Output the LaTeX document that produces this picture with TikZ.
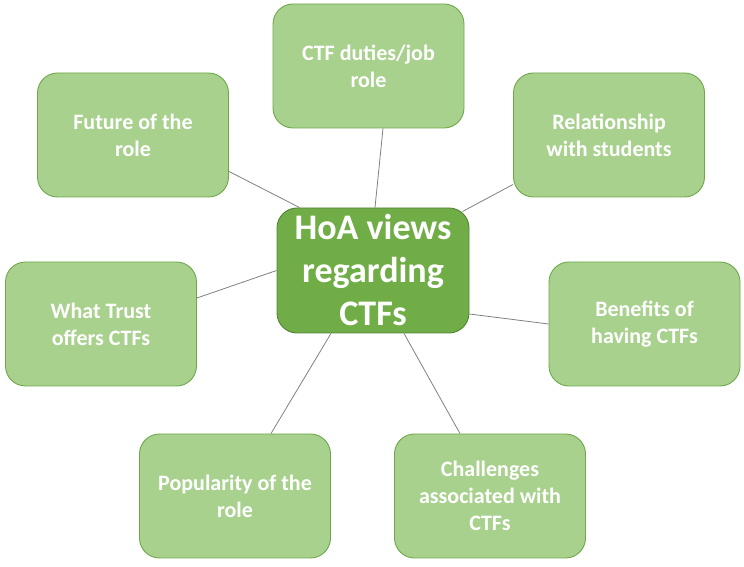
\documentclass[tikz,border=0pt]{standalone}
\usepackage{fontspec}
\setmainfont{Carlito}
\usetikzlibrary{calc}
\definecolor{outerfill}{HTML}{A9D18E}
\definecolor{outerdraw}{HTML}{6EA84A}
\definecolor{centerfill}{HTML}{70AD47}
\definecolor{centerdraw}{HTML}{548235}
\definecolor{linkgray}{HTML}{808080}
\tikzset{
  topicbox/.style={draw=outerdraw, fill=outerfill, line width=0.9pt, rounded corners=20pt,
    minimum width=191pt, minimum height=124pt, inner sep=0pt, align=center, text=white,
    font=\fontsize{22}{27}\selectfont\bfseries},
  hubbox/.style={draw=centerdraw, fill=centerfill, line width=0.9pt, rounded corners=20pt,
    minimum width=192pt, minimum height=125pt, inner sep=0pt, align=center, text=white,
    font=\fontsize{36}{43}\selectfont\bfseries},
  link/.style={draw=linkgray, line width=0.8pt}
}
\begin{document}
\begin{tikzpicture}[x=1pt,y=1pt]
\useasboundingbox (0,0) rectangle (744,567);
\node[hubbox] (hoa) at (373,296.5) {HoA views\\regarding\\CTFs};
\node[topicbox] (duties) at (368.5,501) {CTF duties/job\\role};
\node[topicbox] (future) at (133,432) {Future of the\\role};
\node[topicbox] (rel) at (609,432) {Relationship\\with students};
\node[topicbox] (trust) at (101,243) {What Trust\\offers CTFs};
\node[topicbox] (benefits) at (644.5,243) {Benefits of\\having CTFs};
\node[topicbox] (popular) at (235,71) {Popularity of the\\role};
\node[topicbox] (challenges) at (490,71) {Challenges\\associated with\\CTFs};
\draw[link] ($(hoa.north)+(2,0)$) -- ($(duties.south)+(14.5,0)$);
\draw[link] ($(hoa.north west)+(23,0)$) -- ($(future.south east)+(0,26)$);
\draw[link] ($(hoa.north east)+(-7,-4)$) -- ($(rel.south west)+(0,13)$);
\draw[link] (hoa.west) -- ($(trust.east)+(0,26)$);
\draw[link] ($(hoa.east)+(0,-43.5)$) -- (benefits.west);
\draw[link] ($(hoa.south)+(-42,0)$) -- ($(popular.north)+(36,0)$);
\draw[link] ($(hoa.south)+(31,0)$) -- ($(challenges.north)+(-30,0)$);
\end{tikzpicture}
\end{document}
